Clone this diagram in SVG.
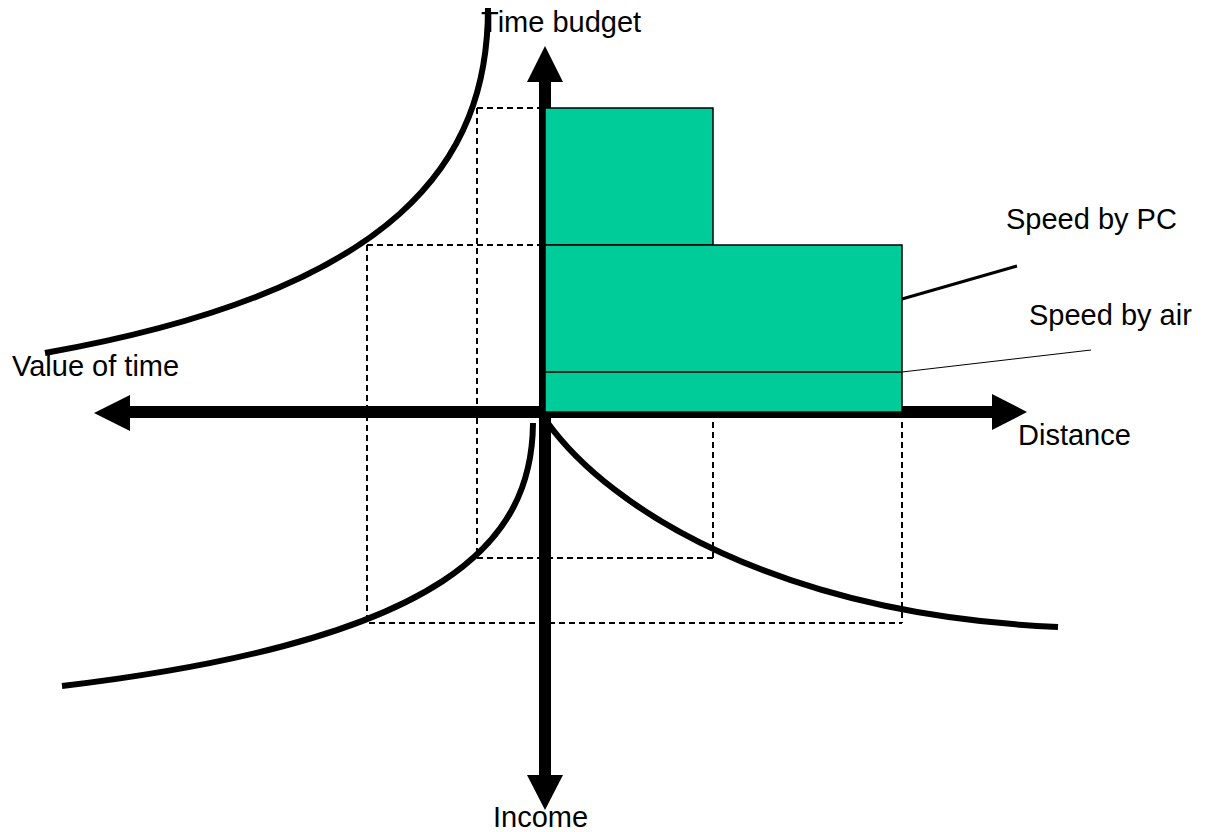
<svg xmlns="http://www.w3.org/2000/svg" width="1208" height="832" viewBox="0 0 1208 832">
<style>
.dash{fill:none;stroke:#000;stroke-width:2;stroke-dasharray:6 4}
.curve{fill:none;stroke:#000;stroke-width:6}
.axis{stroke:#000;stroke-width:12;fill:none}
.head{fill:#000}
.bar{fill:#00CC99;stroke:#000;stroke-width:1.5}
.lbl{font-family:"Liberation Sans",Arial,sans-serif;font-size:29px;fill:#000}
</style>
<rect width="1208" height="832" fill="#fff"/>
<g id="guides">
<path class="dash" d="M477 108H545M477 108V558H713M713 412V558M367 245H545M367 245V623H902M902 412V623"/>
</g>
<g id="curves">
<path id="curve-time" class="curve" d="M488 8C488 160 400 290 45 353"/>
<path id="curve-value" class="curve" d="M533 423C532 540 450 640 62 686"/>
<path id="curve-income" class="curve" d="M547 422C610 510 780 615 1058 627"/>
</g>
<g id="connectors">
<line class="axis" x1="545" y1="80" x2="545" y2="777"/>
<line class="axis" x1="128" y1="412" x2="994" y2="412"/>
<polygon class="head" points="527,82 545,46 563,82"/>
<polygon class="head" points="527,775 545,810 563,775"/>
<polygon class="head" points="130,395 94,413 130,431"/>
<polygon class="head" points="992,394 1027,412 992,430"/>
<line x1="902" y1="299" x2="1017" y2="266" stroke="#000" stroke-width="3"/>
<line x1="902" y1="372" x2="1091" y2="350" stroke="#000" stroke-width="1"/>
</g>
<g id="bar-top"><rect class="bar" x="545" y="108" width="168" height="137"/></g>
<g id="bar-bottom"><rect class="bar" x="545" y="245" width="357" height="167"/>
<line x1="545" y1="372" x2="902" y2="372" stroke="#000" stroke-width="1.5"/></g>
<g id="labels">
<text id="t-time" class="lbl" x="481" y="32">Time budget</text>
<text id="t-value" class="lbl" x="12" y="376">Value of time</text>
<text id="t-pc" class="lbl" x="1006" y="229">Speed by PC</text>
<text id="t-air" class="lbl" x="1029" y="325">Speed by air</text>
<text id="t-dist" class="lbl" x="1018" y="445">Distance</text>
<text id="t-income" class="lbl" x="493" y="827">Income</text>
</g>
</svg>
